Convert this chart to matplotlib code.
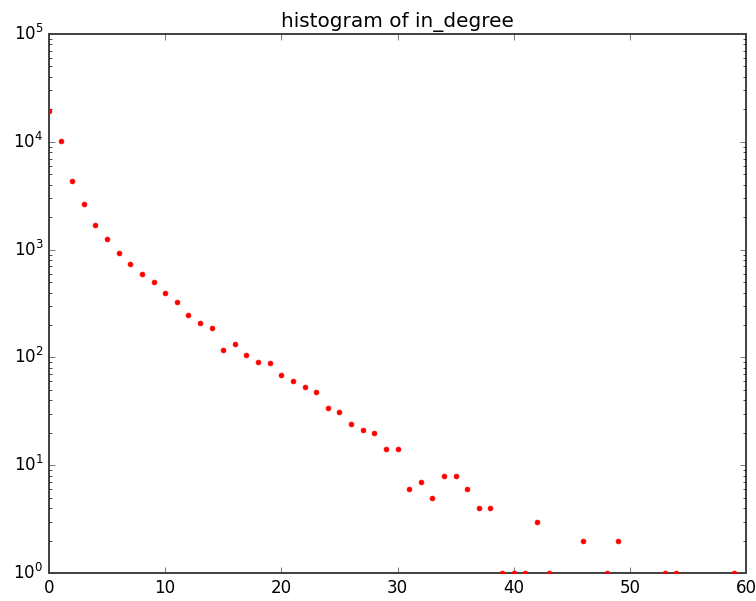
import matplotlib
matplotlib.use('Agg')
from matplotlib import pyplot as plt

# in_degree values and their counts
degree = [0, 1, 2, 3, 4, 5, 6, 7, 8, 9,
          10, 11, 12, 13, 14, 15, 16, 17, 18, 19,
          20, 21, 22, 23, 24, 25, 26, 27, 28, 29,
          30, 31, 32, 33, 34, 35, 36, 37, 38, 39,
          40, 41, 42, 43, 46, 48, 49, 53, 54, 59]
count = [19300, 10200, 4300, 2640, 1700, 1245, 935, 735, 594, 500,
         393, 326, 249, 207, 187, 116, 134, 105, 91, 88,
         69, 60, 53, 48, 34, 31, 24, 21, 20, 14,
         14, 6, 7, 5, 8, 8, 6, 4, 4, 1,
         1, 1, 3, 1, 2, 1, 2, 1, 1, 1]

plt.style.use('classic')
fig = plt.figure(figsize=(7.56, 6.01), dpi=100, facecolor='white')
ax = fig.add_axes([0.0648, 0.0466, 0.922, 0.8968])
ax.plot(degree, count, 'r.', markersize=7, zorder=3)
ax.set_yscale('log')
ax.set_xlim(0, 60)
ax.set_ylim(1, 1e5)
ax.set_title('histogram of in_degree')
for sp in ax.spines.values():
    sp.set_linewidth(1.4)
    sp.set_color('#404040')
ax.tick_params(colors='#404040', labelcolor='black')
fig.savefig('out.png', dpi=100, facecolor='white')
